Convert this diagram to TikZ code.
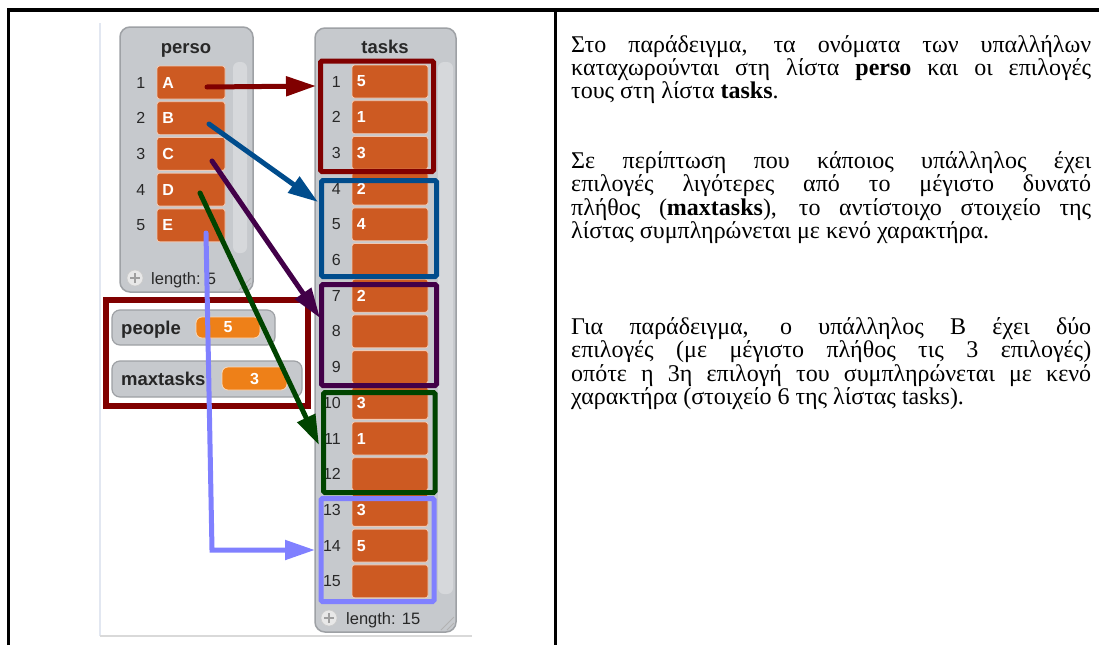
\documentclass[tikz,border=0pt]{standalone}
\usepackage{fontspec}
\setmainfont{Liberation Serif}
\newfontfamily\snapfont{Liberation Sans}
\usetikzlibrary{arrows.meta}
\definecolor{cellor}{RGB}{205,90,34}
\definecolor{celledge}{RGB}{240,200,178}
\definecolor{pillor}{RGB}{238,128,24}
\definecolor{listgray}{RGB}{198,201,205}
\definecolor{listedge}{RGB}{158,161,165}
\definecolor{scrollgray}{RGB}{214,216,219}
\definecolor{fred}{RGB}{128,0,0}
\definecolor{fblue}{RGB}{0,76,140}
\definecolor{fpurple}{RGB}{66,0,72}
\definecolor{fgreen}{RGB}{0,68,0}
\definecolor{flblue}{RGB}{128,128,255}
\definecolor{idxgray}{RGB}{40,40,40}
\begin{document}
\begin{tikzpicture}[x=1pt,y=-1pt,
  listbox/.style={draw=listedge,line width=1.5pt,fill=listgray,rounded corners=10pt},
  cellbox/.style={draw=celledge,line width=0.9pt,fill=cellor,rounded corners=2.5pt,inner sep=0pt,minimum height=33pt},
  celltxt/.style={text=white,font=\snapfont\bfseries\fontsize{16}{18}\selectfont,inner sep=0pt,anchor=west},
  idxtxt/.style={text=idxgray,font=\snapfont\fontsize{16}{18}\selectfont,inner sep=0pt,anchor=east},
  titletxt/.style={text=idxgray,font=\snapfont\bfseries\fontsize{18.5}{20}\selectfont,inner sep=0pt,anchor=base},
  lentxt/.style={text=idxgray,font=\snapfont\fontsize{16.5}{18}\selectfont,inner sep=0pt,anchor=base west},
  plusbtn/.style={circle,fill=gray!18,draw=gray!40,line width=0.6pt,minimum size=16pt,inner sep=0pt},
  watcher/.style={draw=listedge,line width=1.2pt,fill=listgray,rounded corners=8pt},
  pill/.style={fill=pillor,draw=white!70!pillor,line width=0.8pt,rounded corners=6pt},
  vartxt/.style={text=black!85,font=\snapfont\bfseries\fontsize{18.5}{20}\selectfont,inner sep=0pt,anchor=base west},
  valtxt/.style={text=white,font=\snapfont\bfseries\fontsize{16}{18}\selectfont,inner sep=0pt},
  frame/.style={line width=5pt,rounded corners=1.5pt},
  arr/.style={line width=5pt,line cap=round,-{Triangle[length=30pt,width=19pt]}},
  para/.style={anchor=base west,inner sep=0pt,font=\fontsize{24}{26}\selectfont},
]
\fill[white] (0,0) rectangle (1099,645);
\useasboundingbox (0,0) rectangle (1099,645);

% table lines
\draw[line width=3.4pt] (8.3,645) -- (8.3,10) -- (1099,10);
\draw[line width=3.4pt] (555.5,10) -- (555.5,645);

% screenshot edges
\draw[color={rgb,255:red,226;green,231;blue,241},line width=1.5pt] (100,23) -- (100,636);
\draw[color=gray!30,line width=1.5pt] (100,636) -- (472,636);

% ---------- perso list ----------
\draw[listbox] (120,27) rectangle (253,292);
\fill[scrollgray,rounded corners=6pt] (233,62) rectangle (247,253);
\node[titletxt] (persot) at (186,53) {perso};
\foreach \i/\l in {1/A,2/B,3/C,4/D,5/E}{
  \pgfmathsetmacro{\yy}{82.5+(\i-1)*35.7}
  \node[idxtxt] (pi\i) at (145.5,\yy) {\i};
  \node[cellbox,minimum width=68pt] (p\l) at (191,\yy) {};
  \node[celltxt] (p\l t) at ([xshift=5.5pt]p\l.west) {\l};
}
\node[plusbtn] (pplus) at (135,278) {};
\draw[gray!75,line width=1.4pt] ([xshift=-5pt]pplus.center) -- ([xshift=5pt]pplus.center);
\draw[gray!75,line width=1.4pt] ([yshift=-5pt]pplus.center) -- ([yshift=5pt]pplus.center);
\node[lentxt] (plen) at (151,284) {length: 5};
\draw[gray!60,line width=0.8pt] (239,290) -- (251,278);
\draw[gray!60,line width=0.8pt] (244,290) -- (251,283);

% ---------- tasks list ----------
\draw[listbox] (315,28) rectangle (456,632);
\fill[scrollgray,rounded corners=6pt] (438,62) rectangle (453,594);
\node[titletxt] (taskst) at (385,53) {tasks};
\foreach \i/\v in {1/5,2/1,3/3,4/2,5/4,6/,7/2,8/,9/,10/3,11/1,12/,13/3,14/5,15/}{
  \pgfmathsetmacro{\yy}{81.5+(\i-1)*35.7}
  \node[idxtxt] (ti\i) at (341,\yy) {\i};
  \node[cellbox,minimum width=76pt] (t\i) at (390,\yy) {};
  \node[celltxt] (t\i t) at ([xshift=5pt]t\i.west) {\v};
}
\node[plusbtn] (tplus) at (329,618) {};
\draw[gray!75,line width=1.4pt] ([xshift=-5pt]tplus.center) -- ([xshift=5pt]tplus.center);
\draw[gray!75,line width=1.4pt] ([yshift=-5pt]tplus.center) -- ([yshift=5pt]tplus.center);
\node[lentxt] (tlen) at (346,624) {length: 15};
\draw[gray!60,line width=0.8pt] (441,630) -- (454,617);
\draw[gray!60,line width=0.8pt] (447,630) -- (454,623);

% coloured groups
\draw[frame,fred] (320.5,61) rectangle (433.5,171.5);
\draw[frame,fblue] (321.5,180.5) rectangle (436.5,276.5);
\draw[frame,fpurple] (321.5,284.5) rectangle (436.5,385.5);
\draw[frame,fgreen] (323.5,392.5) rectangle (435,492.5);
\draw[frame,flblue] (321,498.5) rectangle (434,601.5);

% ---------- variable watchers ----------
\draw[watcher] (112,310) rectangle (275,345);
\draw[pill] (196,317) rectangle (260,338);
\node[vartxt] (people) at (121,334) {people};
\node[valtxt] (peoplev) at (228,327.5) {5};
\draw[watcher] (112,361) rectangle (302,397);
\draw[pill] (222,367) rectangle (287,390);
\node[vartxt] (maxt) at (121,385) {maxtasks};
\node[valtxt] (maxtv) at (254.5,378.5) {3};
\draw[line width=5.5pt,fred] (106,300) rectangle (308,406);

% ---------- arrows ----------
\coordinate (sA) at (207,87);  \coordinate (eA) at (316,86);
\coordinate (sB) at (209,124); \coordinate (eB) at (318,202);
\coordinate (sC) at (212,161); \coordinate (eC) at (320,318);
\coordinate (sD) at (200,193); \coordinate (eD) at (319,445);
\coordinate (sE) at (206,233); \coordinate (kE) at (212,550); \coordinate (eE) at (315,550);
\draw[arr,fred] (sA) -- (eA);
\draw[arr,fblue] (sB) -- (eB);
\draw[arr,fpurple] (sC) -- (eC);
\draw[arr,fgreen] (sD) -- (eD);
\draw[arr,flblue] (sE) -- (kE) -- (eE);

% ---------- text ----------
\node[para] (l1) at (571,52) {\makebox[520pt][s]{Στο παράδειγμα, τα ονόματα των υπαλλήλων}};
\node[para] (l2) at (571,75) {\makebox[520pt][s]{καταχωρούνται στη λίστα \textbf{perso} και οι επιλογές}};
\node[para] (l3) at (571,98) {τους στη λίστα \textbf{tasks}.};
\node[para] (l4) at (571,168) {\makebox[520pt][s]{Σε περίπτωση που κάποιος υπάλληλος έχει}};
\node[para] (l5) at (571,191.5) {\makebox[520pt][s]{επιλογές λιγότερες από το μέγιστο δυνατό}};
\node[para] (l6) at (571,215) {\makebox[520pt][s]{πλήθος (\textbf{maxtasks}), το αντίστοιχο στοιχείο της}};
\node[para] (l7) at (571,238.5) {λίστας συμπληρώνεται με κενό χαρακτήρα.};
\node[para] (l8) at (571,334) {\makebox[520pt][s]{Για παράδειγμα, ο υπάλληλος B έχει δύο}};
\node[para] (l9) at (571,357.5) {\makebox[520pt][s]{επιλογές (με μέγιστο πλήθος τις 3 επιλογές)}};
\node[para] (l10) at (571,381) {\makebox[520pt][s]{οπότε η 3η επιλογή του συμπληρώνεται με κενό}};
\node[para] (l11) at (571,404.5) {χαρακτήρα (στοιχείο 6 της λίστας tasks).};
\end{tikzpicture}
\end{document}
